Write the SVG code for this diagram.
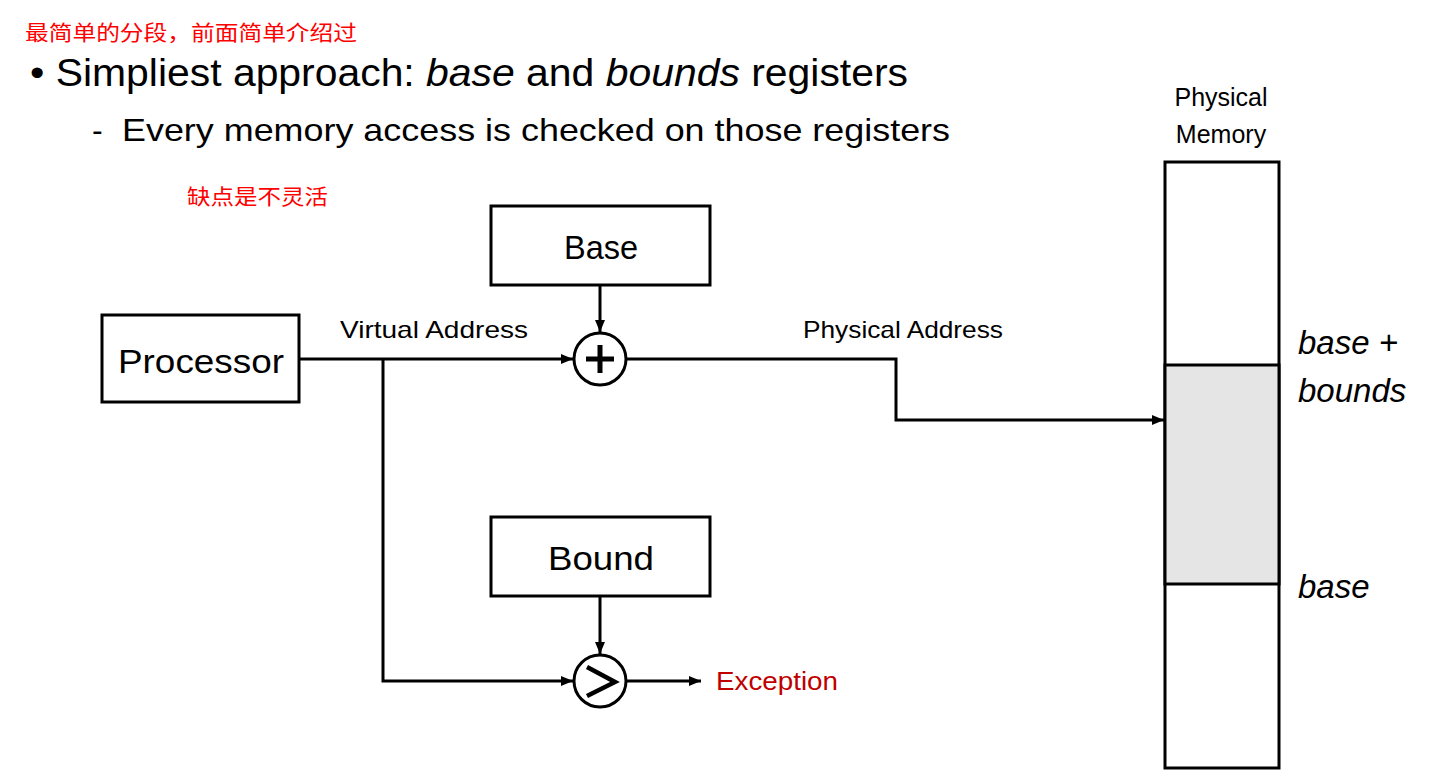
<svg xmlns="http://www.w3.org/2000/svg" width="1437" height="779" viewBox="0 0 1437 779">
<style>
.box{fill:#fff;stroke:#000;stroke-width:3}
.ln{fill:none;stroke:#000;stroke-width:3}
.t{font-family:"Liberation Sans",Arial,sans-serif;fill:#000}
.cn{font-family:"Noto Sans CJK SC",sans-serif;fill:#ff0000;font-size:21px}
.it{font-style:italic}
</style>
<defs>
<marker id="ah" markerWidth="12" markerHeight="10" refX="12" refY="5" orient="auto" markerUnits="userSpaceOnUse">
<path d="M0,0 L12,5 L0,10 z" fill="#000"/>
</marker>
</defs>
<rect width="1437" height="779" fill="#fff"/>
<text class="cn" x="25" y="40" textLength="332" lengthAdjust="spacingAndGlyphs">最简单的分段，前面简单介绍过</text>
<text class="t" x="30" y="86" font-size="38" textLength="878" lengthAdjust="spacingAndGlyphs">• Simpliest approach: <tspan class="it">base</tspan> and <tspan class="it">bounds</tspan> registers</text>
<text class="t" x="92" y="141" font-size="32">-</text>
<text class="t" x="122" y="141" font-size="32" textLength="828" lengthAdjust="spacingAndGlyphs">Every memory access is checked on those registers</text>
<text class="cn" x="187" y="204" textLength="141" lengthAdjust="spacingAndGlyphs">缺点是不灵活</text>

<g id="connectors">
<line class="ln" x1="299" y1="359" x2="573" y2="359" marker-end="url(#ah)"/>
<polyline class="ln" points="383,359 383,681 573,681" marker-end="url(#ah)"/>
<line class="ln" x1="600" y1="285" x2="600" y2="332" marker-end="url(#ah)"/>
<line class="ln" x1="600" y1="596" x2="600" y2="654" marker-end="url(#ah)"/>
<polyline class="ln" points="626,359 896,359 896,420 1164,420" marker-end="url(#ah)"/>
<line class="ln" x1="626" y1="681" x2="701" y2="681" marker-end="url(#ah)"/>
<text class="t" x="340" y="338" font-size="24" textLength="188" lengthAdjust="spacingAndGlyphs">Virtual Address</text>
<text class="t" x="803" y="338" font-size="24" textLength="200" lengthAdjust="spacingAndGlyphs">Physical Address</text>
</g>

<g id="processor">
<rect class="box" x="102" y="315" width="197" height="87"/>
<text class="t" x="118" y="373" font-size="34" textLength="166" lengthAdjust="spacingAndGlyphs">Processor</text>
</g>
<g id="base">
<rect class="box" x="491" y="206" width="219" height="79"/>
<text class="t" x="564" y="259" font-size="34" textLength="74" lengthAdjust="spacingAndGlyphs">Base</text>
</g>
<g id="bound">
<rect class="box" x="491" y="517" width="219" height="79"/>
<text class="t" x="548" y="570" font-size="34" textLength="106" lengthAdjust="spacingAndGlyphs">Bound</text>
</g>
<g id="adder">
<circle class="box" cx="600" cy="359" r="26"/>
<path d="M586,359 H614 M600,345 V373" stroke="#000" stroke-width="5" fill="none"/>
</g>
<g id="comparator">
<circle class="box" cx="600" cy="681" r="26"/>
<path d="M587,667 L615,682 L587,696" stroke="#000" stroke-width="4.5" fill="none"/>
</g>
<g id="exception">
<text class="t" x="716" y="690" font-size="26" style="fill:#c00000" textLength="122" lengthAdjust="spacingAndGlyphs">Exception</text>
</g>
<g id="memory">
<text class="t" x="1221" y="106" font-size="25" text-anchor="middle">Physical</text>
<text class="t" x="1221" y="143" font-size="25" text-anchor="middle">Memory</text>
<rect class="box" x="1165" y="162" width="114" height="606"/>
<rect x="1165" y="365" width="114" height="219" fill="#e5e5e5" stroke="#000" stroke-width="3"/>
<text class="t it" x="1298" y="354" font-size="33">base +</text>
<text class="t it" x="1298" y="402" font-size="33">bounds</text>
<text class="t it" x="1298" y="598" font-size="33">base</text>
</g>
</svg>
